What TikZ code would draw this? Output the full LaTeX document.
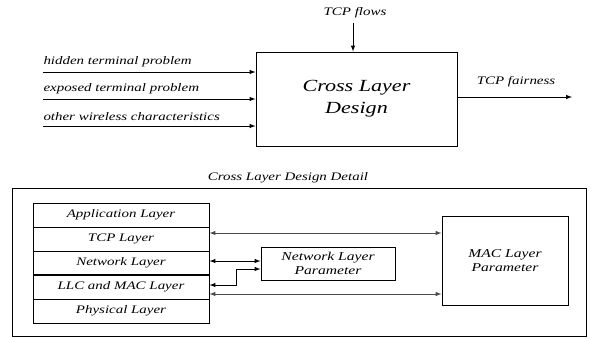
\documentclass[tikz,border=0pt]{standalone}
\usepackage{fontspec}
\setmainfont{Liberation Serif}
\newfontfamily\wideserif[FakeStretch=1.3]{Liberation Serif}
\usetikzlibrary{arrows}
\usetikzlibrary{calc}

\tikzset{
  lbl/.style={font=\wideserif\itshape\fontsize{11.5}{12}\selectfont, inner sep=1pt},
  layer/.style={draw, minimum width=176pt, minimum height=24pt, inner sep=0pt,
    font=\wideserif\itshape\fontsize{11.5}{12}\selectfont},
  parbox/.style={draw, align=center, inner sep=0pt,
    font=\wideserif\itshape\fontsize{12}{13.5}\selectfont},
  link/.style={black!70, line width=1pt, latex-latex}
}

\begin{document}
\begin{tikzpicture}[x=1pt,y=-1pt,line width=1pt]
\useasboundingbox (0,0) rectangle (593,338);
% top block
\node[draw, minimum width=201pt, minimum height=94pt, align=center,
  font=\wideserif\itshape\fontsize{17}{22}\selectfont] (cld) at (356.5,99) {Cross Layer\\Design};
\node[lbl, anchor=south west] (hidden) at (42,68) {hidden terminal problem};
\node[lbl, anchor=south west] (exposed) at (42,95) {exposed terminal problem};
\node[lbl, anchor=south west] (other) at (42,122) {other wireless characteristics};
\foreach \n/\y in {hidden/72, exposed/99, other/126}
  \draw[-latex] (43,\y) coordinate (\n-in) -- (\n-in -| cld.west);
\node[lbl] (flows) at (355,13) {TCP flows};
\draw[-latex] (353,23) -- (353,23 |- cld.north);
\node[lbl] (fair) at (516,82) {TCP fairness};
\coordinate (fair-out) at (572,97);
\draw[-latex] (cld.east |- fair-out) -- (fair-out);
% detail block
\node[lbl] (detail) at (288,178) {Cross Layer Design Detail};
\node[draw, minimum width=574pt, minimum height=148pt] (outer) at (299,262) {};
\foreach \n/\t [count=\i] in {app/Application Layer, tcp/TCP Layer, net/Network Layer,
    llc/LLC and MAC Layer, phy/Physical Layer}
  \node[layer] (\n) at (121,{191+24*\i}) {\t};
\draw[line width=1.8pt] (llc.north west) -- (llc.north east);
\node[parbox, minimum width=134pt, minimum height=33pt] (nlp) at (328,263.5) {Network Layer\\Parameter};
\node[parbox, minimum width=126pt, minimum height=89pt] (mac) at (505,260.5) {MAC Layer\\Parameter};
\draw[link] ([yshift=6pt]tcp.east) -- ([yshift=6pt]tcp.east -| mac.west);
\draw[link] ([yshift=-7pt]llc.east) -- ([yshift=-7pt]llc.east -| mac.west);
\draw[link, black] ([yshift=2pt]net.east) -- ([yshift=2pt]net.east -| nlp.west);
\draw[link, black] ([yshift=2pt]llc.east) -- ++(27,0) |- ([yshift=-5.5pt]nlp.west);
\end{tikzpicture}
\end{document}
